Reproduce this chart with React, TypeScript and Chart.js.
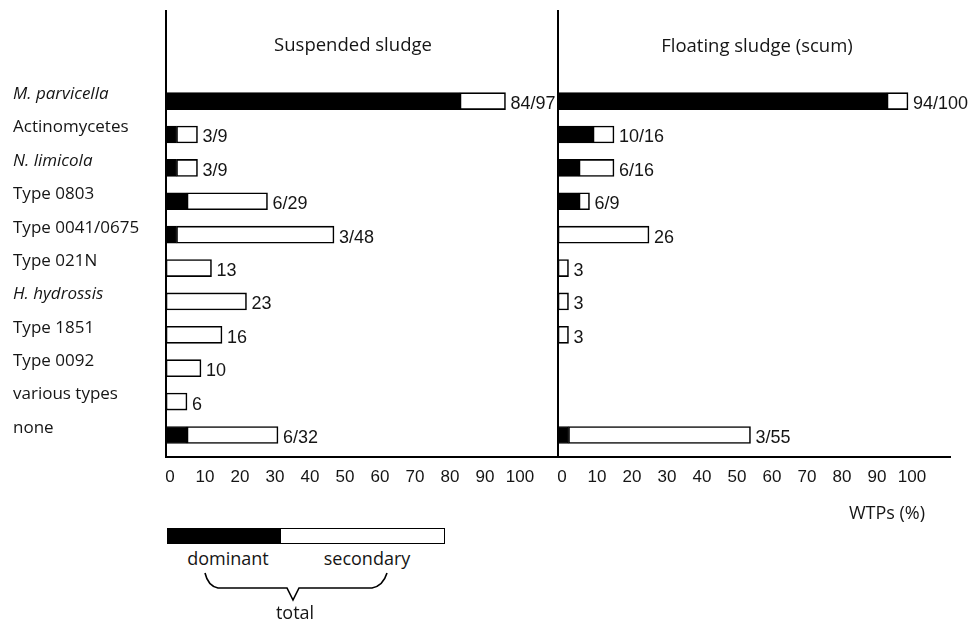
import React, { useEffect, useRef } from 'react';
import { Chart, registerables } from 'chart.js';

Chart.register(...registerables);

const categories = [
  'M. parvicella',
  'Actinomycetes',
  'N. limicola',
  'Type 0803',
  'Type 0041/0675',
  'Type 021N',
  'H. hydrossis',
  'Type 1851',
  'Type 0092',
  'various types',
  'none',
];
const italicCategories = ['M. parvicella', 'N. limicola', 'H. hydrossis'];

const suspendedDominant = [84, 3, 3, 6, 3, 0, 0, 0, 0, 0, 6];
const suspendedTotal = [97, 9, 9, 29, 48, 13, 23, 16, 10, 6, 32];
const scumDominant = [94, 10, 6, 6, 0, 0, 0, 0, null, null, 3];
const scumTotal = [100, 16, 16, 9, 26, 3, 3, 3, null, null, 55];

const xTicks = [0, 10, 20, 30, 40, 50, 60, 70, 80, 90, 100];
const panelTitles = ['Suspended sludge', 'Floating sludge (scum)'];
const axisTitle = 'WTPs (%)';
const legendLabels = ['dominant', 'secondary', 'total'];

const LABEL_FONT = "'Open Sans', 'Noto Sans', sans-serif";
const NUM_FONT = "'Liberation Sans', Arial, sans-serif";
const INK = '#151515';

const valueLabelPlugin = {
  id: 'valueLabels',
  afterDatasetsDraw(chart: any) {
    const ctx = chart.ctx;
    const ds = chart.data.datasets[1];
    const meta = chart.getDatasetMeta(1);
    ctx.save();
    ctx.font = `18px ${NUM_FONT}`;
    ctx.fillStyle = INK;
    ctx.textAlign = 'left';
    ctx.textBaseline = 'middle';
    meta.data.forEach((el: any, k: number) => {
      const raw = ds.data[k];
      if (!raw) return;
      ctx.fillText(raw.label, el.x + 5, el.y + 3);
    });
    ctx.restore();
  },
};

function buildConfig(dominant: (number | null)[], total: (number | null)[], showLabels: boolean, padLeft: number, padRight: number, yWidth: number) {
  const domPoints: any[] = [];
  const secPoints: any[] = [];
  total.forEach((t, i) => {
    if (t == null) return;
    const d = dominant[i] || 0;
    if (d > 0) domPoints.push({ x: d, y: i });
    secPoints.push({ x: t - d, y: i, label: d > 0 ? `${d}/${t}` : `${t}` });
  });
  return {
    type: 'bar',
    data: {
      datasets: [
        {
          label: 'dominant',
          data: domPoints,
          backgroundColor: '#000',
          borderColor: '#000',
          borderWidth: 1,
          barThickness: 17,
        },
        {
          label: 'secondary',
          data: secPoints,
          backgroundColor: '#fff',
          borderColor: '#000',
          borderWidth: 1.6,
          borderSkipped: false,
          barThickness: 17,
        },
      ],
    },
    options: {
      indexAxis: 'y',
      animation: false,
      responsive: false,
      devicePixelRatio: 1,
      layout: { padding: { top: 11, left: padLeft, right: padRight, bottom: 0 } },
      plugins: { legend: { display: false }, tooltip: { enabled: false }, title: { display: false } },
      scales: {
        x: {
          type: 'linear',
          stacked: true,
          offset: false,
          min: 0,
          max: 112,
          grid: { display: false, drawTicks: false },
          border: { display: true, color: '#000', width: 2 },
          afterBuildTicks: (scale: any) => {
            scale.ticks = xTicks.map((v) => ({ value: v }));
          },
          afterFit: (scale: any) => {
            scale.height = 43;
          },
          ticks: {
            autoSkip: false,
            maxRotation: 0,
            padding: 10,
            labelOffset: 4,
            color: INK,
            font: { family: NUM_FONT, size: 17 },
          },
        },
        y: {
          type: 'linear',
          stacked: true,
          reverse: true,
          offset: false,
          min: -2.7,
          max: 10.66,
          grid: { display: false, drawTicks: false, offset: false },
          border: { display: true, color: '#000', width: 2 },
          afterBuildTicks: (scale: any) => {
            scale.ticks = categories.map((_, i) => ({ value: i }));
          },
          afterFit: (scale: any) => {
            scale.width = yWidth;
          },
          ticks: {
            display: showLabels,
            crossAlign: 'far',
            padding: 0,
            labelOffset: -7,
            color: INK,
            callback: (v: any) => categories[v] ?? '',
            font: (c: any) => ({
              family: LABEL_FONT,
              size: 17,
              style: italicCategories.includes(categories[c.index]) ? 'italic' : 'normal',
            }),
          },
        },
      },
    },
    plugins: [valueLabelPlugin],
  } as any;
}

const abs = (extra: React.CSSProperties): React.CSSProperties => ({ position: 'absolute', ...extra });

function CenterText({ cx, cy, text, size = 18, family = LABEL_FONT }: any) {
  return (
    <div
      style={abs({
        left: cx - 150,
        top: cy - 12,
        width: 300,
        height: 24,
        lineHeight: '24px',
        textAlign: 'center',
        fontFamily: family,
        fontSize: size,
        color: INK,
        whiteSpace: 'nowrap',
      })}
    >
      {text}
    </div>
  );
}

export default function App() {
  const leftRef = useRef<HTMLCanvasElement>(null);
  const rightRef = useRef<HTMLCanvasElement>(null);

  useEffect(() => {
    const left = new Chart(leftRef.current!, buildConfig(suspendedDominant, suspendedTotal, true, 13, 0, 153));
    const right = new Chart(rightRef.current!, buildConfig(scumDominant, scumTotal, false, 18, 18, 0));
    return () => {
      left.destroy();
      right.destroy();
    };
  }, []);

  return (
    <div style={abs({ left: 0, top: 0, width: 968, height: 623, background: '#fff', overflow: 'hidden' })}>
      <canvas ref={leftRef} width={558} height={500} style={abs({ left: 0, top: 0 })} />
      <canvas ref={rightRef} width={428} height={500} style={abs({ left: 540, top: 0 })} />
      <CenterText cx={353} cy={44} text={panelTitles[0]} size={18.5} />
      <CenterText cx={757} cy={45} text={panelTitles[1]} size={18.5} />
      <div
        style={abs({
          left: 725,
          width: 200,
          top: 500,
          height: 24,
          lineHeight: '24px',
          textAlign: 'right',
          fontFamily: LABEL_FONT,
          fontSize: 18,
          color: INK,
        })}
      >
        {axisTitle}
      </div>
      <div
        style={abs({
          left: 167,
          top: 528,
          width: 278,
          height: 16,
          border: '1.6px solid #000',
          boxSizing: 'border-box',
          background: '#fff',
        })}
      >
        <div style={{ width: 113, height: '100%', background: '#000' }} />
      </div>
      <CenterText cx={228} cy={558} text={legendLabels[0]} />
      <CenterText cx={367} cy={558} text={legendLabels[1]} />
      <svg width={968} height={623} style={abs({ left: 0, top: 0, pointerEvents: 'none' })}>
        <path
          d="M205 573 Q208 586 218 588 L287 588 L293 600 L299 588 L372 588 Q383 586 387 573"
          fill="none"
          stroke="#000"
          strokeWidth={1.6}
        />
      </svg>
      <CenterText cx={295} cy={612} text={legendLabels[2]} />
    </div>
  );
}
